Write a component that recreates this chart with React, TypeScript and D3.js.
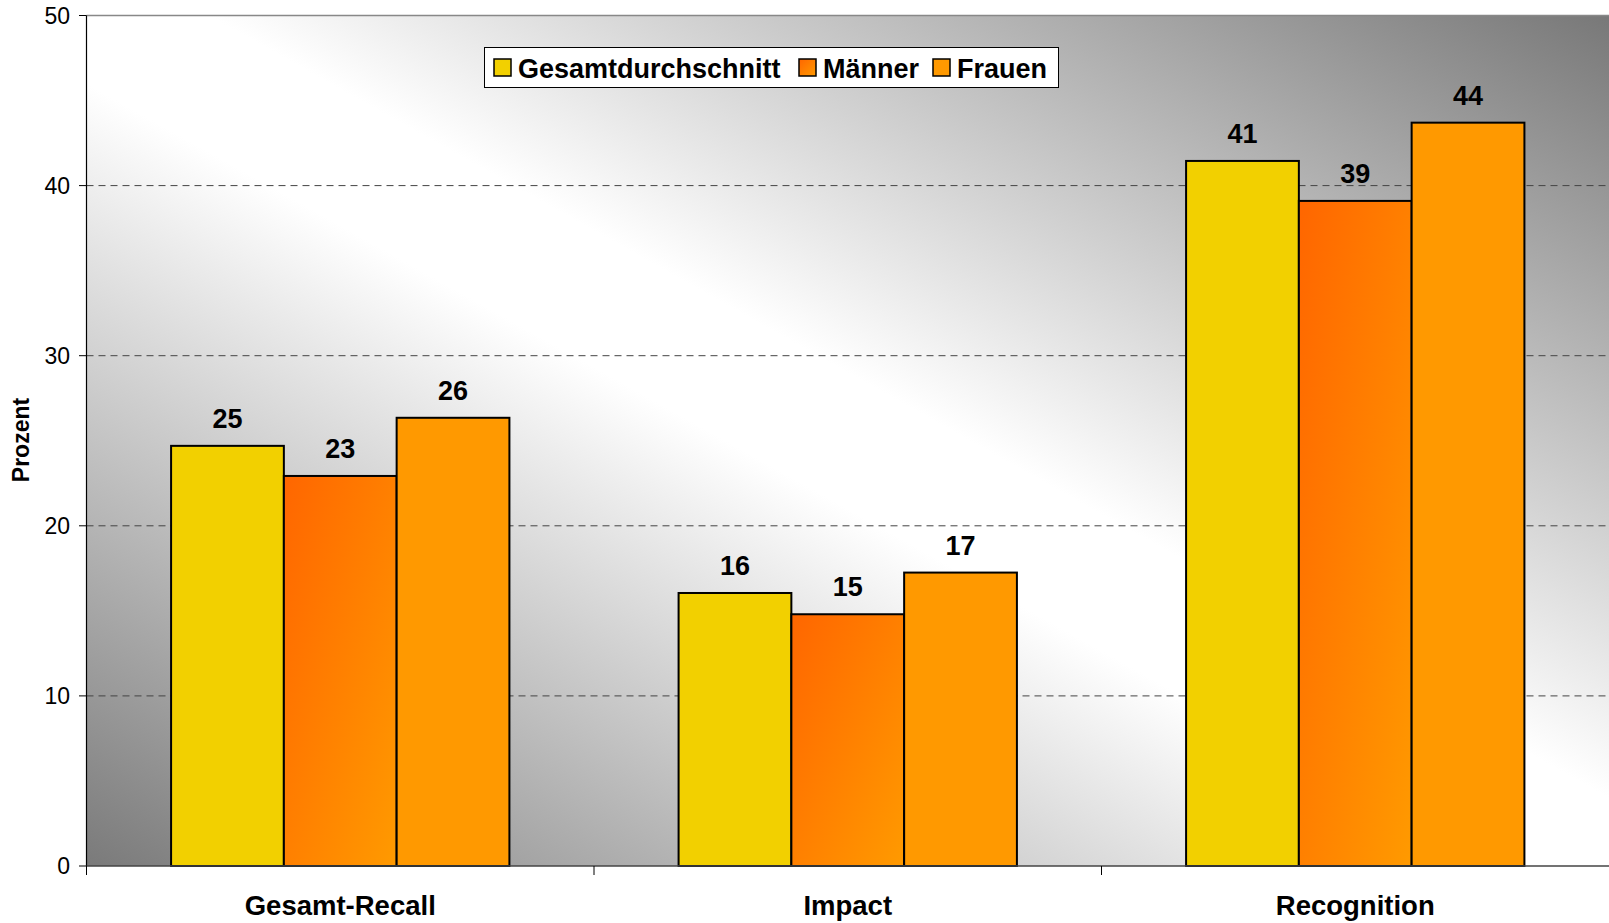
import React from "react";
import * as d3 from "d3";

const categories = ["Gesamt-Recall", "Impact", "Recognition"];
const seriesNames = ["Gesamtdurchschnitt", "Männer", "Frauen"];
const gesamt = [24.7, 16.05, 41.45];
const maenner = [22.93, 14.8, 39.1];
const frauen = [26.35, 17.25, 43.7];
const labelsGesamt = ["25", "16", "41"];
const labelsMaenner = ["23", "15", "39"];
const labelsFrauen = ["26", "17", "44"];
const yTicks = [0, 10, 20, 30, 40, 50];

const W = 1609;
const H = 923;
const left = 86.5;
const right = 1609;
const top = 15.5;
const bottom = 866;
const font = "'Liberation Sans', Arial, sans-serif";

export default function App() {
  const x = d3.scaleBand<string>().domain(categories).range([left, right]).paddingInner(0).paddingOuter(0);
  const xs = d3.scaleBand<string>().domain(seriesNames).range([0, x.bandwidth()]).paddingInner(0).paddingOuter(0.75);
  const y = d3.scaleLinear().domain([0, 50]).range([bottom, top]);

  const series = [
    { name: seriesNames[0], values: gesamt, labels: labelsGesamt, fill: "#F2D000" },
    { name: seriesNames[1], values: maenner, labels: labelsMaenner, fill: "url(#gradM)" },
    { name: seriesNames[2], values: frauen, labels: labelsFrauen, fill: "#FF9900" },
  ];

  const legendItems = [
    { sx: 494, tx: 518, fill: "#F2D000", name: seriesNames[0] },
    { sx: 799, tx: 823, fill: "url(#gradMs)", name: seriesNames[1] },
    { sx: 933, tx: 957, fill: "#FF9900", name: seriesNames[2] },
  ];

  return (
    <svg width={W} height={H} style={{ position: "absolute", left: 0, top: 0, background: "#fff" }}>
      <defs>
        <linearGradient id="bg" x1="0" y1="1" x2="1" y2="0">
          <stop offset="0" stopColor="#7a7a7a" />
          <stop offset="0.46" stopColor="#ffffff" />
          <stop offset="0.54" stopColor="#ffffff" />
          <stop offset="1" stopColor="#787878" />
        </linearGradient>
        <linearGradient id="gradM" x1="0" y1="0" x2="1" y2="1">
          <stop offset="0" stopColor="#FF6600" />
          <stop offset="1" stopColor="#FF9A00" />
        </linearGradient>
        <linearGradient id="gradMs" x1="0" y1="0" x2="1" y2="1">
          <stop offset="0" stopColor="#FF6600" />
          <stop offset="1" stopColor="#FF9A00" />
        </linearGradient>
      </defs>
      <rect x={left} y={top} width={right - left} height={bottom - top} fill="url(#bg)" />
      <line x1={left} x2={right} y1={top} y2={top} stroke="#888" strokeWidth={1.5} />
      {yTicks.filter((t) => t > 0 && t < 50).map((t) => (
        <line key={t} x1={left} x2={right} y1={y(t)} y2={y(t)} stroke="#444" strokeWidth={1} strokeDasharray="7,5" />
      ))}
      {series.map((s) =>
        categories.map((c, i) => {
          const bx = (x(c) as number) + (xs(s.name) as number);
          const by = y(s.values[i]);
          return (
            <g key={s.name + c}>
              <rect x={bx} y={by} width={xs.bandwidth()} height={bottom - by} fill={s.fill} stroke="#000" strokeWidth={2} />
              <text x={bx + xs.bandwidth() / 2} y={by - 18} textAnchor="middle" fontFamily={font} fontWeight="bold" fontSize={27} fill="#000">
                {s.labels[i]}
              </text>
            </g>
          );
        })
      )}
      <line x1={left} x2={left} y1={top} y2={bottom} stroke="#000" strokeWidth={1.2} />
      <line x1={left} x2={right} y1={bottom} y2={bottom} stroke="#444" strokeWidth={1.5} />
      {yTicks.map((t) => (
        <g key={t}>
          <line x1={79} x2={left} y1={y(t)} y2={y(t)} stroke="#000" strokeWidth={1} />
          <text x={70} y={y(t) + 8} textAnchor="end" fontFamily={font} fontSize={23} fill="#000">
            {t}
          </text>
        </g>
      ))}
      {categories.map((c) => (
        <g key={c}>
          <line x1={x(c) as number} x2={x(c) as number} y1={bottom} y2={bottom + 9} stroke="#000" strokeWidth={1} />
          <text x={(x(c) as number) + x.bandwidth() / 2} y={915} textAnchor="middle" fontFamily={font} fontWeight="bold" fontSize={27.5} fill="#000">
            {c}
          </text>
        </g>
      ))}
      <text transform="translate(28.5,440) rotate(-90)" textAnchor="middle" fontFamily={font} fontWeight="bold" fontSize={23} fill="#000">
        Prozent
      </text>
      <rect x={484.5} y={47.5} width={574} height={40} fill="#fff" stroke="#000" strokeWidth={1} />
      {legendItems.map((l) => (
        <g key={l.name}>
          <rect x={l.sx} y={59} width={17} height={17} fill={l.fill} stroke="#000" strokeWidth={1.5} />
          <text x={l.tx} y={77.5} fontFamily={font} fontWeight="bold" fontSize={27} fill="#000">
            {l.name}
          </text>
        </g>
      ))}
    </svg>
  );
}
